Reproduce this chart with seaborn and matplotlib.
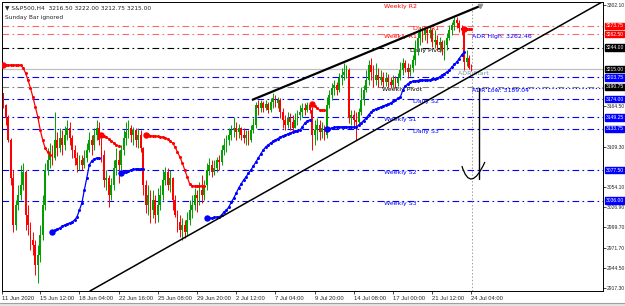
import numpy as np
import pandas as pd
import matplotlib
matplotlib.use("Agg")
import matplotlib.pyplot as plt
import seaborn as sns
from matplotlib.path import Path
from matplotlib.patches import PathPatch, Rectangle

# ---------------- data (S&P500, H4) ----------------
first_open = 3182.0
close = [3166,3148,3119,3067,3003,3030,3044,3057,3075,3017,
         3003,2983,2976,2949,2962,2989,3030,3078,3091,3102,
         3094,3119,3108,3121,3112,3125,3135,3121,3105,3094,
         3085,3091,3085,3094,3105,3119,3112,3125,3135,3119,
         3098,3064,3067,3044,3057,3081,3091,3085,3105,3121,
         3129,3135,3125,3132,3119,3125,3108,3057,3030,3044,
         3023,3037,3017,3030,3044,3064,3075,3057,3067,3037,
         3017,3007,2996,3003,2993,3010,3023,3030,3044,3040,
         3051,3044,3057,3078,3085,3075,3081,3091,3089,3105,
         3112,3119,3125,3132,3135,3129,3135,3125,3121,3125,
         3119,3132,3139,3166,3162,3169,3162,3168,3159,3170,
         3176,3169,3173,3157,3146,3139,3149,3143,3135,3146,
         3153,3157,3162,3159,3166,3159,3125,3132,3139,3129,
         3135,3125,3166,3180,3189,3193,3187,3203,3207,3211,
         3214,3149,3153,3146,3143,3157,3173,3187,3200,3221,
         3211,3200,3207,3200,3204,3197,3203,3197,3193,3200,
         3196,3203,3214,3223,3217,3211,3217,3227,3244,3257,
         3265,3261,3268,3264,3268,3252,3255,3248,3252,3241,
         3248,3257,3268,3275,3282,3278,3271,3268,3225,3230,
         3216.5,3215.0]
high = [3182,3167,3153,3121,3078,3037,3057,3085,3087,3078,
        3030,3007,2993,2983,2976,3003,3044,3087,3108,3115,
        3112,3157,3129,3135,3132,3138,3146,3143,3125,3112,
        3102,3098,3098,3105,3115,3129,3125,3135,3146,3143,
        3121,3105,3078,3071,3067,3091,3108,3105,3112,3132,
        3143,3146,3139,3136,3135,3135,3132,3109,3064,3057,
        3051,3051,3044,3053,3057,3078,3082,3081,3078,3068,
        3044,3023,3017,3013,3010,3021,3037,3044,3053,3051,
        3061,3071,3064,3087,3094,3091,3091,3095,3098,3112,
        3121,3125,3135,3139,3150,3143,3140,3136,3135,3132,
        3132,3139,3148,3170,3173,3173,3172,3173,3170,3176,
        3182,3180,3177,3176,3162,3153,3157,3155,3153,3155,
        3159,3166,3169,3169,3170,3169,3163,3146,3148,3146,
        3143,3139,3177,3187,3196,3200,3197,3210,3217,3223,
        3221,3217,3159,3159,3157,3162,3191,3193,3214,3227,
        3230,3221,3223,3217,3214,3211,3211,3208,3204,3207,
        3206,3210,3225,3230,3227,3223,3222,3234,3255,3265,
        3272,3271,3272,3271,3274,3271,3268,3261,3259,3255,
        3255,3264,3275,3279,3286,3286,3282,3275,3272,3241,
        3234,3222.0]
low = [3162,3139,3116,3057,2993,2996,3023,3037,3051,2996,
       2989,2969,2962,2935,2924,2953,2983,3023,3071,3081,
       3085,3091,3097,3102,3098,3105,3119,3112,3094,3085,
       3075,3078,3078,3081,3089,3102,3098,3105,3119,3112,
       3089,3055,3051,3027,3037,3051,3071,3060,3078,3098,
       3112,3121,3116,3112,3109,3108,3102,3044,3019,3017,
       3006,3012,3006,3007,3023,3037,3057,3051,3048,3023,
       3014,2993,2987,2983,2985,2989,3003,3012,3023,3021,
       3030,3033,3037,3051,3071,3068,3071,3075,3078,3085,
       3098,3102,3112,3119,3123,3119,3121,3119,3114,3112,
       3112,3116,3128,3135,3153,3157,3157,3159,3155,3157,
       3162,3163,3162,3149,3135,3132,3135,3132,3129,3135,
       3139,3146,3150,3153,3157,3155,3105,3112,3119,3119,
       3121,3119,3121,3162,3173,3180,3180,3184,3193,3200,
       3203,3142,3139,3136,3119,3139,3153,3166,3184,3193,
       3200,3191,3193,3191,3193,3191,3192,3191,3189,3191,
       3189,3192,3200,3207,3211,3203,3206,3211,3221,3234,
       3248,3252,3255,3251,3257,3245,3244,3241,3238,3234,
       3227,3241,3255,3261,3268,3271,3265,3261,3214,3219,
       3215,3212.75]

# trailing-stop style indicator segments: (first bar, values)
red_segments = [
    (0,   [3220.5,3220.5,3220.5,3220.5,3220.5,3220.5,3220.5,3220.5,3216.4,3209.6,
           3200.1,3189.2,3177.0,3163.4,3149.8,3132.1,3118.5,3107.6,3102.2,3098.1]),
    (40,  [3125.3,3124.0,3122.6,3119.9,3117.2,3114.4,3111.7,3110.3]),
    (58,  [3125.3,3125.3,3124.6,3124.0,3124.0,3123.3,3122.6,3122.6,3121.2,3119.9,
           3117.2,3114.4,3109.0,3102.2,3095.4,3087.2,3077.7,3068.2,3058.7,3055.9,
           3055.9,3055.9,3055.9,3055.9,3055.9]),
    (126, [3167.5,3164.8,3162.0,3159.3,3159.3,3159.3]),
    (188, [3269.5,3269.5,3269.5,3269.5]),
]
blue_segments = [
    (20,  [2993.4,2996.1,2997.5,2998.8,3001.5,3002.9,3004.3,3005.6,3007.0,3009.7,
           3013.8,3023.3,3032.8,3050.5,3066.8,3084.5,3090.0,3092.7,3094.0,3094.0]),
    (48,  [3073.6,3074.3,3075.0,3076.4,3077.7,3078.4,3079.1,3079.1,3079.1,3079.1]),
    (83,  [3012.4,3012.4,3012.4,3013.1,3013.8,3013.8,3016.5,3020.6,3023.3,3027.4,
           3034.2,3039.6,3046.4,3053.2,3058.7,3064.1,3068.2,3073.6,3077.7,3083.1,
           3088.6,3094.0,3099.5,3104.9,3109.0,3111.7,3114.4,3116.5,3118.5,3120.5,
           3122.6,3123.9,3125.3,3126.7,3128.0,3129.4,3130.8,3131.4,3132.1,3136.2,
           3141.6,3144.3,3145.7]),
    (132, [3133.4,3134.1,3134.8,3135.5,3136.2,3136.2,3136.2,3136.2,3136.2,3136.2,
           3136.2,3136.2,3136.2,3138.9,3141.6,3145.0,3148.4,3152.5,3156.6,3159.3,
           3160.7,3162.0,3163.4,3164.8,3166.1,3167.5,3168.8,3170.9,3172.9,3175.0,
           3177.0,3186.5,3191.9,3194.7,3197.4,3198.1,3198.7,3199.4,3200.1,3200.1,
           3200.1,3200.1,3200.1,3201.5,3202.1,3202.8,3204.2,3206.9,3208.9,3211.0,
           3213.7,3217.8,3221.2,3224.6,3229.3,3234.1,3238.2]),
]

# pivot / ADR levels
level_prices = [3273.75, 3262.50, 3244.00, 3203.75, 3190.75, 3174.00, 3149.25, 3133.75, 3077.50, 3036.00]
level_colors = ["#ff6666", "#ff6666", "#000000", "#0000ff", "#808080", "#0000ff", "#0000ff", "#0000ff", "#0000ff", "#0000ff"]
box_prices = [3273.75, 3262.50, 3244.00, 3215.00, 3203.75, 3190.75, 3174.00, 3149.25, 3133.75, 3077.50, 3036.00]
box_colors = ["#ff0000", "#ff0000", "#000000", "#000000", "#0000ff", "#000000", "#0000ff", "#0000ff", "#0000ff", "#0000ff", "#0000ff"]
current_price = 3215.00
adr_low = 3189.04
adr_high = 3262.46

# text labels: (text, bar, price, colour)
level_labels = [
    ("Weekly R2", 155.5, 3304.0, "#ff0000"),
    ("Daily R1", 167.0, 3273.75, "#ff0000"),
    ("Weekly R1", 155.5, 3262.50, "#ff0000"),
    ("Daily Pivot", 166.0, 3244.00, "#000000"),
    ("ADR High: 3262.46", 191.2, 3262.46, "#0000ff"),
    ("ADR Start", 185.5, 3212.5, "#6f9ca6"),
    ("Weekly Pivot", 154.5, 3190.75, "#000000"),
    ("ADR Low: 3189.04", 191.2, 3189.04, "#0000ff"),
    ("Daily S2", 167.0, 3174.00, "#0000ff"),
    ("Weekly S1", 155.3, 3149.25, "#0000ff"),
    ("Daily S3", 167.0, 3133.75, "#0000ff"),
    ("Weekly S2", 155.3, 3077.50, "#0000ff"),
    ("Weekly S3", 155.3, 3036.00, "#0000ff"),
]

# channel lines (bar, price anchors)
upper_line_bars = [101.4, 194.5]
upper_line_prices = [3172.9, 3300.7]
lower_line_bars = [35.3, 244.3]
lower_line_prices = [2913.1, 3306.2]
separator_bar = 191.2

y_ticks = [3302.10, 3164.50, 3109.30, 3054.10, 3026.90, 2999.70, 2971.70, 2944.50, 2917.30]
x_tick_bars = [-0.5, 15, 31, 47, 63, 79, 95, 111, 127, 143, 159, 175, 191]
x_tick_labels = ["11 Jun 2020", "15 Jun 12:00", "18 Jun 04:00", "22 Jun 16:00", "25 Jun 08:00",
                 "29 Jun 20:00", "2 Jul 12:00", "7 Jul 04:00", "9 Jul 20:00", "14 Jul 08:00",
                 "17 Jul 00:00", "21 Jul 12:00", "24 Jul 04:00"]

# ---------------- figure ----------------
sns.set_style("white")
plt.rcParams['font.family'] = ['DejaVu Sans']
fig = plt.figure(figsize=(6.25, 3.06), dpi=100)
ax = fig.add_axes([2/625, 15/306, 601/625, 289/306])
ax.set_xlim(-0.612, 244.7)
ax.set_ylim(2913.1, 3306.2)

n = len(close)
opens = [first_open] + close[:-1]
df = pd.DataFrame({"bar": np.arange(n), "open": opens, "high": high, "low": low, "close": close})
df["up"] = df["close"] >= df["open"]
GREEN, RED = "#00a000", "#ff0000"
cols = np.where(df["up"], GREEN, RED)

dash_dot = (0, (6, 3, 1.5, 3))
for p, c in zip(level_prices, level_colors):
    ax.axhline(p, color=c, lw=0.8, ls=dash_dot, zorder=1)
ax.axhline(current_price, color="#c0c0c0", lw=0.9, zorder=1)
ax.hlines(adr_low, separator_bar, 244.7, color="#0000ff", lw=0.8, ls=(0, (1, 2)), zorder=1)
ax.axvline(separator_bar, color="#a0a0a0", lw=0.7, ls=(0, (1.5, 2)), zorder=1)

for txt, b, p, c in level_labels:
    ax.text(b, p, txt, color=c, fontsize=4.5, va="top", ha="left", zorder=2)

# candles
ax.vlines(df["bar"], df["low"], df["high"], colors=cols, lw=0.7, zorder=3)
body = (df["close"] - df["open"]).where(lambda s: s.abs() > 0.6, 0.6)
ax.bar(df["bar"], body, bottom=df["open"], width=0.75, color=cols, linewidth=0, zorder=3)

# indicator dots
for segs, col in ((red_segments, "#ff0000"), (blue_segments, "#0000ff")):
    for start, vals in segs:
        bars = np.arange(start, start + len(vals))
        sns.lineplot(x=bars, y=vals, ax=ax, color=col, lw=0.9, marker="o",
                     markersize=2.2, markeredgewidth=0, zorder=4)
        ax.plot(bars[0], vals[0], "o", color=col, markersize=3.6, zorder=4)

# channel lines
ax.plot(upper_line_bars, upper_line_prices, color="black", lw=1.6, zorder=5, solid_capstyle="butt")
ax.plot(upper_line_bars[-1], upper_line_prices[-1], marker="v", color="#909090", markersize=3, zorder=5)
ax.plot(lower_line_bars, lower_line_prices, color="black", lw=1.1, zorder=5)

# hand-drawn arrow
arrow_bar = 194.1
ax.plot([arrow_bar, arrow_bar], [3189.2, 3065.5], color="black", lw=1.0, zorder=5)
verts = [(187.1, 3083.1), (190.6, 3045.1), (196.5, 3088.6)]
ax.add_patch(PathPatch(Path(verts, [Path.MOVETO, Path.CURVE3, Path.CURVE3]),
                       fc="none", ec="black", lw=0.9, zorder=5))

# axes styling
AXFONT = "Liberation Sans"
ax.yaxis.tick_right()
ax.set_yticks(y_ticks)
ax.set_yticklabels([f"{v:.2f}" for v in y_ticks], fontfamily=AXFONT)
ax.set_xticks(x_tick_bars)
ax.set_xticklabels(x_tick_labels, ha="left", fontfamily=AXFONT)
ax.tick_params(axis="y", labelsize=3.6, length=2, pad=0.8, width=0.6, right=True, left=False)
ax.tick_params(axis="x", labelsize=4.2, length=2, pad=1.5, width=0.6, bottom=True)
for s in ax.spines.values():
    s.set_color("black")
    s.set_linewidth(0.7)
ax.set_xlabel("")
ax.set_ylabel("")

ytr = ax.get_yaxis_transform()
for p, c in zip(box_prices, box_colors):
    ax.text(1.0045, p, f"{p:.2f}", transform=ytr, fontsize=3.6, fontfamily=AXFONT, color="white",
            va="center", ha="left",
            bbox=dict(boxstyle="square,pad=0.15", fc=c, ec=c), zorder=6, clip_on=False)

ax.text(0.005, 0.979, "\u25bc S&P500,H4  3216.50 3222.00 3212.75 3215.00", transform=ax.transAxes,
        fontsize=4.2, va="center", ha="left", zorder=6)
ax.text(0.005, 0.948, "Sunday Bar ignored", transform=ax.transAxes,
        fontsize=4.2, va="center", ha="left", zorder=6)

fig.patches.append(Rectangle((0, 0), 1, 3/306, transform=fig.transFigure, fc="#e4e4e4", ec="none"))
fig.lines.append(matplotlib.lines.Line2D([0, 1], [3/306, 3/306], transform=fig.transFigure, color="#a0a0a0", lw=0.8))

fig.savefig("out.png", dpi=100)
